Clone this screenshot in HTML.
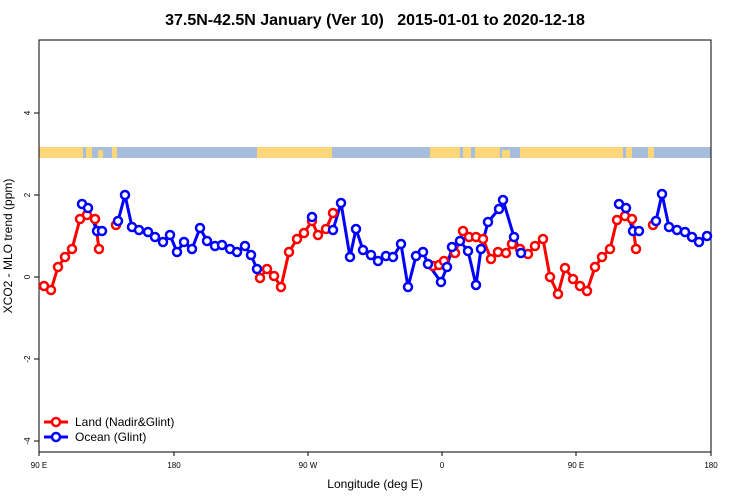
<!DOCTYPE html>
<html><head><meta charset="utf-8"><style>body{margin:0;background:#fff}svg{display:block}</style></head><body>
<svg width="750" height="500" viewBox="0 0 750 500" xmlns="http://www.w3.org/2000/svg" font-family="Liberation Sans, sans-serif">
<rect width="750" height="500" fill="#fff"/>
<text x="375" y="25" text-anchor="middle" font-size="16" font-weight="bold">37.5N-42.5N January (Ver 10)&#160;&#160; 2015-01-01 to 2020-12-18</text>
<rect x="39" y="147" width="672" height="11" fill="#a6bddb"/>
<g fill="#fdd67a">
<rect x="39" y="147" width="44" height="11"/><rect x="86" y="147" width="6" height="11"/><rect x="98" y="150" width="5" height="8"/><rect x="112" y="147" width="5" height="11"/>
<rect x="257" y="147" width="75" height="11"/>
<rect x="430" y="147" width="30" height="11"/><rect x="463" y="147" width="8" height="11"/><rect x="475" y="147" width="25" height="11"/><rect x="502" y="150" width="8" height="8"/>
<rect x="520" y="147" width="103" height="11"/><rect x="626" y="147" width="6" height="11"/><rect x="648" y="147" width="6" height="11"/>
</g>
<rect x="39" y="40" width="672" height="412" fill="none" stroke="#000" stroke-width="1"/>
<g stroke="#000"><line x1="34" y1="113" x2="39" y2="113"/><line x1="34" y1="195" x2="39" y2="195"/><line x1="34" y1="277" x2="39" y2="277"/><line x1="34" y1="359" x2="39" y2="359"/><line x1="34" y1="441" x2="39" y2="441"/>
<line x1="39" y1="452" x2="39" y2="456"/><line x1="174" y1="452" x2="174" y2="456"/><line x1="308" y1="452" x2="308" y2="456"/><line x1="442" y1="452" x2="442" y2="456"/><line x1="576" y1="452" x2="576" y2="456"/><line x1="711" y1="452" x2="711" y2="456"/></g>
<g font-size="8" text-anchor="middle">
<text transform="translate(27,113) rotate(-90)" dy="3">4</text><text transform="translate(27,195) rotate(-90)" dy="3">2</text><text transform="translate(27,277) rotate(-90)" dy="3">0</text><text transform="translate(27,359) rotate(-90)" dy="3">-2</text><text transform="translate(27,441) rotate(-90)" dy="3">-4</text>
<text x="39" y="468">90 E</text><text x="174" y="468">180</text><text x="308" y="468">90 W</text><text x="442" y="468">0</text><text x="576" y="468">90 E</text><text x="711" y="468">180</text>
</g>
<text x="375" y="488" text-anchor="middle" font-size="12">Longitude (deg E)</text>
<text transform="translate(12,246) rotate(-90)" text-anchor="middle" font-size="12">XCO2 - MLO trend (ppm)</text>
<g fill="none" stroke-width="3" stroke-linejoin="round">
<g stroke="#f00">
<polyline points="44,286 51,290 58,267 65,257 72,249 80,219 87,215 95,219 99,249"/>
<polyline points="260,278 267,269 274,276 281,287 289,252 297,239 304,233 312,221 318,235 326,229 333,213"/>
<polyline points="433,266 439,265 444,261 455,253 463,231 469,237 476,237 483,239 491,259 498,252 506,253 512,244 520,249 528,254 535,246 543,239 550,277 558,294 565,268 573,279 580,286 587,291 595,267 602,257 610,249 617,220 625,216 632,219 636,249"/>
</g>
<g stroke="#00f">
<polyline points="82,204 88,208 97,231 102,231"/>
<polyline points="118,221 125,195 132,227 139,230 148,232 155,237 163,242 170,235 177,252 184,242 192,249 200,228 207,241 215,246 222,245 230,249 237,252 245,246 251,255 257,269"/>
<polyline points="333,230 341,203 350,257 356,229 363,250 371,255 378,261 386,256 393,257 401,244 408,287 416,256 423,252 428,264 441,282 447,267 452,247 460,241 468,251 476,285 481,249 488,222 499,209 503,200 514,237 521,253"/>
<polyline points="619,204 626,208 633,231 639,231"/>
<polyline points="656,221 662,194 669,227 677,230 685,232 692,237 699,242 707,236"/>
</g>
</g>
<g fill="#fff" stroke-width="2.5">
<g stroke="#f00">
<circle cx="44" cy="286" r="4"/><circle cx="51" cy="290" r="4"/><circle cx="58" cy="267" r="4"/><circle cx="65" cy="257" r="4"/><circle cx="72" cy="249" r="4"/><circle cx="80" cy="219" r="4"/><circle cx="87" cy="215" r="4"/><circle cx="95" cy="219" r="4"/><circle cx="99" cy="249" r="4"/><circle cx="116" cy="225" r="4"/>
<circle cx="260" cy="278" r="4"/><circle cx="267" cy="269" r="4"/><circle cx="274" cy="276" r="4"/><circle cx="281" cy="287" r="4"/><circle cx="289" cy="252" r="4"/><circle cx="297" cy="239" r="4"/><circle cx="304" cy="233" r="4"/><circle cx="312" cy="221" r="4"/><circle cx="318" cy="235" r="4"/><circle cx="326" cy="229" r="4"/><circle cx="333" cy="213" r="4"/>
<circle cx="433" cy="266" r="4"/><circle cx="439" cy="265" r="4"/><circle cx="444" cy="261" r="4"/><circle cx="455" cy="253" r="4"/><circle cx="463" cy="231" r="4"/><circle cx="469" cy="237" r="4"/><circle cx="476" cy="237" r="4"/><circle cx="483" cy="239" r="4"/><circle cx="491" cy="259" r="4"/><circle cx="498" cy="252" r="4"/><circle cx="506" cy="253" r="4"/><circle cx="512" cy="244" r="4"/><circle cx="520" cy="249" r="4"/><circle cx="528" cy="254" r="4"/><circle cx="535" cy="246" r="4"/><circle cx="543" cy="239" r="4"/><circle cx="550" cy="277" r="4"/><circle cx="558" cy="294" r="4"/><circle cx="565" cy="268" r="4"/><circle cx="573" cy="279" r="4"/><circle cx="580" cy="286" r="4"/><circle cx="587" cy="291" r="4"/><circle cx="595" cy="267" r="4"/><circle cx="602" cy="257" r="4"/><circle cx="610" cy="249" r="4"/><circle cx="617" cy="220" r="4"/><circle cx="625" cy="216" r="4"/><circle cx="632" cy="219" r="4"/><circle cx="636" cy="249" r="4"/><circle cx="653" cy="225" r="4"/>
</g>
<g stroke="#00f">
<circle cx="82" cy="204" r="4"/><circle cx="88" cy="208" r="4"/><circle cx="97" cy="231" r="4"/><circle cx="102" cy="231" r="4"/>
<circle cx="118" cy="221" r="4"/><circle cx="125" cy="195" r="4"/><circle cx="132" cy="227" r="4"/><circle cx="139" cy="230" r="4"/><circle cx="148" cy="232" r="4"/><circle cx="155" cy="237" r="4"/><circle cx="163" cy="242" r="4"/><circle cx="170" cy="235" r="4"/><circle cx="177" cy="252" r="4"/><circle cx="184" cy="242" r="4"/><circle cx="192" cy="249" r="4"/><circle cx="200" cy="228" r="4"/><circle cx="207" cy="241" r="4"/><circle cx="215" cy="246" r="4"/><circle cx="222" cy="245" r="4"/><circle cx="230" cy="249" r="4"/><circle cx="237" cy="252" r="4"/><circle cx="245" cy="246" r="4"/><circle cx="251" cy="255" r="4"/><circle cx="257" cy="269" r="4"/>
<circle cx="312" cy="217" r="4"/>
<circle cx="333" cy="230" r="4"/><circle cx="341" cy="203" r="4"/><circle cx="350" cy="257" r="4"/><circle cx="356" cy="229" r="4"/><circle cx="363" cy="250" r="4"/><circle cx="371" cy="255" r="4"/><circle cx="378" cy="261" r="4"/><circle cx="386" cy="256" r="4"/><circle cx="393" cy="257" r="4"/><circle cx="401" cy="244" r="4"/><circle cx="408" cy="287" r="4"/><circle cx="416" cy="256" r="4"/><circle cx="423" cy="252" r="4"/><circle cx="428" cy="264" r="4"/><circle cx="441" cy="282" r="4"/><circle cx="447" cy="267" r="4"/><circle cx="452" cy="247" r="4"/><circle cx="460" cy="241" r="4"/><circle cx="468" cy="251" r="4"/><circle cx="476" cy="285" r="4"/><circle cx="481" cy="249" r="4"/><circle cx="488" cy="222" r="4"/><circle cx="499" cy="209" r="4"/><circle cx="503" cy="200" r="4"/><circle cx="514" cy="237" r="4"/><circle cx="521" cy="253" r="4"/>
<circle cx="619" cy="204" r="4"/><circle cx="626" cy="208" r="4"/><circle cx="633" cy="231" r="4"/><circle cx="639" cy="231" r="4"/>
<circle cx="656" cy="221" r="4"/><circle cx="662" cy="194" r="4"/><circle cx="669" cy="227" r="4"/><circle cx="677" cy="230" r="4"/><circle cx="685" cy="232" r="4"/><circle cx="692" cy="237" r="4"/><circle cx="699" cy="242" r="4"/><circle cx="707" cy="236" r="4"/>
</g>
</g>
<line x1="44" y1="422" x2="68" y2="422" stroke="#f00" stroke-width="3"/><circle cx="56" cy="422" r="4" fill="#fff" stroke="#f00" stroke-width="2.5"/>
<line x1="44" y1="437" x2="68" y2="437" stroke="#00f" stroke-width="3"/><circle cx="56" cy="437" r="4" fill="#fff" stroke="#00f" stroke-width="2.5"/>
<text x="75" y="426" font-size="12">Land (Nadir&amp;Glint)</text>
<text x="75" y="441" font-size="12">Ocean (Glint)</text>
</svg>
</body></html>
